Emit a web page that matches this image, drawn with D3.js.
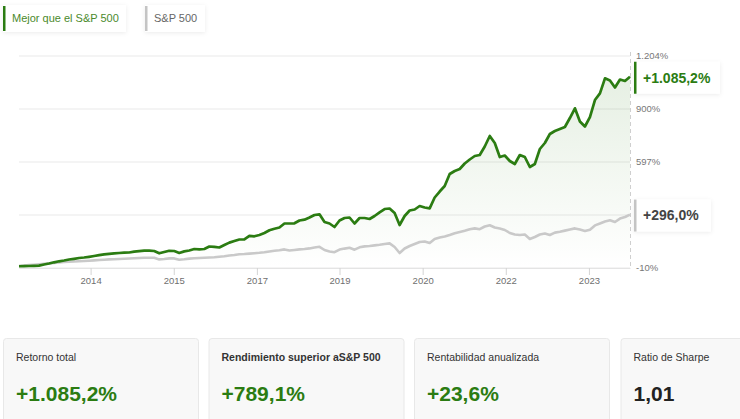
<!DOCTYPE html>
<html><head><meta charset="utf-8">
<script src="https://cdn.jsdelivr.net/npm/d3@7"></script>
<style>
html,body{margin:0;padding:0;background:#fff;}
svg{display:block;font-family:Arial,"Liberation Sans",sans-serif;}
</style></head>
<body>
<svg id="chart" width="740" height="419"></svg>
<script>
// ---- data ----
const seriesNames = ["Mejor que el S&P 500", "S&P 500"];
const portfolio = [0,1,1.5,2.6,3.7,10,15.8,22.6,28.4,33,38.7,42.7,47.3,50.1,54.1,58.7,63.3,67.9,71.3,73.6,
75.9,77.6,78.8,83.9,86.2,89.1,89.1,87.3,74.2,81.6,88.5,87.3,75.9,85,90.2,98.8,97.1,98.8,113.1,111.4,
107.4,121.7,135.4,144.6,153.2,154.3,174.4,171.5,179,190.4,205.9,214.5,221.9,244.8,244.8,246,262,266.6,279.2,293.5,
297.5,253.4,244.8,224.8,262,276.3,279.2,244.8,276.3,276.3,270.6,287.8,309,327.8,330.7,304.9,236.2,287.8,319.2,325,
345,336.4,331.8,393.7,428,459.5,528.2,545.4,556.9,588.4,611.3,631.3,637,685.7,745.8,705.8,625.6,634.2,602.7,585.5,
637,625.6,568.3,585.5,671.4,705.8,757.3,774.5,785.9,797.4,848.9,904.5,828.9,800.3,854.6,952,990.3,1076.2,1063.6,1023.6,
1069.4,1060.8,1085.2];
const sp500 = [1.5,3.7,6.6,8.9,11.8,14,16.3,18.6,21.5,24.4,26.1,27.2,28.9,30.1,31.8,33.5,35.8,37.5,39.2,40.4,
41.5,42.7,44.4,46.1,47.3,49,49,48.4,39.2,41.5,45,45,37,39.8,43.8,45.5,47.3,48.4,50.1,51.3,
54.1,57,61.6,64.4,69,70.2,72.5,74.7,77,80.5,85,89.1,91.9,96.5,90.2,93.1,96.5,98.8,102.2,107.4,
111.4,93.1,84.5,80.5,95.4,101.1,105.7,94.8,108.5,113.7,116,119.4,122.8,127.4,130.9,110.2,75.9,101.7,116,127.4,
138.9,141.7,133.2,156.1,164.6,170.4,179,189.3,196.1,203,211.6,216.8,212.2,227.6,235.1,221.9,216.2,207.6,190.4,181.8,
179,181.8,156.1,167.5,181.8,187.5,179,192.7,197.3,204.1,210.5,216.8,209.9,201.9,209.3,233.9,244.8,256.3,263.7,253.4,
272.9,282,296];
const xTickIdx = [14.3, 30.9, 47.5, 64.0, 80.6, 97.2, 113.8];
const xTickLabels = ["2014","2015","2017","2019","2020","2022","2023"];
const yTickVals = [-10, 293.5, 597, 900.5, 1204];
const yTickLabels = ["-10%","","597%","900%","1.204%"];   // 293% label is covered by the end label in the original
const yDomain = [-10, 1204];
const endLabels = ["+1.085,2%", "+296,0%"];
const cardTitles = ["Retorno total","Rendimiento superior aS&P 500","Rentabilidad anualizada","Ratio de Sharpe"];
const cardValues = ["+1.085,2%","+789,1%","+23,6%","1,01"];

// ---- styles ----
const GREEN = "#2b7c12", GREY = "#c9c9c9";
const svg = d3.select("#chart");
const defs = svg.append("defs");
const sh = defs.append("filter").attr("id","sh").attr("x","-20%").attr("y","-40%").attr("width","140%").attr("height","180%");
sh.append("feDropShadow").attr("dx",0).attr("dy",1).attr("stdDeviation",2).attr("flood-color","#000").attr("flood-opacity",0.08);
const grad = defs.append("linearGradient").attr("id","ag").attr("gradientUnits","userSpaceOnUse")
  .attr("x1",0).attr("x2",0).attr("y1",56).attr("y2",268);
grad.append("stop").attr("offset","0").attr("stop-color",GREEN).attr("stop-opacity",0.13);
grad.append("stop").attr("offset","1").attr("stop-color",GREEN).attr("stop-opacity",0.0);

const x = d3.scaleLinear().domain([0, portfolio.length-1]).range([19, 630]);
const y = d3.scaleLinear().domain(yDomain).range([268, 56]);

// grid
svg.append("g").selectAll("line").data(yTickVals).join("line")
  .attr("x1",19).attr("x2",630).attr("y1",d=>y(d)).attr("y2",d=>y(d))
  .attr("stroke","#e9e9e9").attr("stroke-width",1);

// x axis
const xa = svg.append("g").attr("transform","translate(0,268)")
  .call(d3.axisBottom(x).tickValues(xTickIdx).tickFormat((d,i)=>xTickLabels[i]).tickSize(7).tickSizeOuter(0));
xa.select(".domain").attr("stroke","#e4e4e4");
xa.selectAll(".tick line").attr("stroke","#d4d4d4");
xa.selectAll(".tick text").attr("fill","#6f6f6f").attr("font-size","9.5px").attr("dy","0.6em")
  .attr("font-family","Arial,'Liberation Sans',sans-serif");

// dashed right line
svg.append("line").attr("x1",630.5).attr("x2",630.5).attr("y1",52).attr("y2",268)
  .attr("stroke","#cfcfcf").attr("stroke-dasharray","4,3");

// y labels
svg.append("g").selectAll("text").data(yTickVals.filter((d,i)=>yTickLabels[i])).join("text")
  .attr("x",636).attr("y",d=>y(d)).attr("dy","0.35em")
  .attr("fill","#777").attr("font-size","9.5px").text(d=>yTickLabels[yTickVals.indexOf(d)]);

// area
const area = d3.area().x((d,i)=>x(i)).y0(y(yDomain[0])).y1(d=>y(d));
svg.append("path").datum(portfolio).attr("d",area).attr("fill","url(#ag)");

const line = d3.line().x((d,i)=>x(i)).y(d=>y(d));
svg.append("path").datum(sp500).attr("d",line).attr("fill","none").attr("stroke",GREY)
  .attr("stroke-width",2.6).attr("stroke-linejoin","round");
svg.append("path").datum(portfolio).attr("d",line).attr("fill","none").attr("stroke",GREEN)
  .attr("stroke-width",2.7).attr("stroke-linejoin","round");

// end labels
const ends = [
  {v: portfolio[portfolio.length-1], label: endLabels[0], c: GREEN, tc: GREEN, w: 86},
  {v: sp500[sp500.length-1], label: endLabels[1], c: "#c4c4c4", tc: "#444", w: 77}
];
ends.forEach(e => {
  const cy = y(e.v) + 1;
  const g = svg.append("g");
  g.append("rect").attr("x",634).attr("y",cy-16).attr("width",e.w).attr("height",32)
    .attr("fill","#fff").attr("filter","url(#sh)");
  g.append("rect").attr("x",634).attr("y",cy-16).attr("width",2.5).attr("height",32).attr("fill",e.c);
  g.append("text").attr("x",643).attr("y",cy).attr("dy","0.35em").attr("fill",e.tc)
    .attr("font-size","14px").attr("font-weight","bold").text(e.label);
});

// legend
const legend = [
  {x: 3, w: 123, c: GREEN, tc: "#4b8a2c", label: seriesNames[0]},
  {x: 145, w: 60, c: "#c4c4c4", tc: "#666", label: seriesNames[1]}
];
legend.forEach(l => {
  const g = svg.append("g");
  g.append("rect").attr("x",l.x).attr("y",5).attr("width",l.w).attr("height",27).attr("fill","#fff").attr("filter","url(#sh)");
  g.append("rect").attr("x",l.x).attr("y",6).attr("width",2.5).attr("height",25).attr("fill",l.c);
  g.append("text").attr("x",l.x+9).attr("y",18.5).attr("dy","0.35em").attr("fill",l.tc)
    .attr("font-size","11px").text(l.label);
});

// cards
const cardX = [3, 208.5, 414, 620.5];
cardTitles.forEach((t,i) => {
  const g = svg.append("g");
  g.append("rect").attr("x",cardX[i]+0.5).attr("y",338.5).attr("width",195).attr("height",90).attr("rx",3)
    .attr("fill","#f8f8f8").attr("stroke","#e8e8e8");
  g.append("text").attr("x",cardX[i]+13).attr("y",357).attr("dy","0.35em").attr("fill","#333")
    .attr("font-size","10.5px").attr("font-weight", i===1 ? "bold" : "normal").text(t);
  g.append("text").attr("x",cardX[i]+13).attr("y",394).attr("dy","0.35em")
    .attr("fill", i===3 ? "#222" : GREEN).attr("font-size","21px").attr("font-weight","bold").text(cardValues[i]);
});
</script>
</body></html>
